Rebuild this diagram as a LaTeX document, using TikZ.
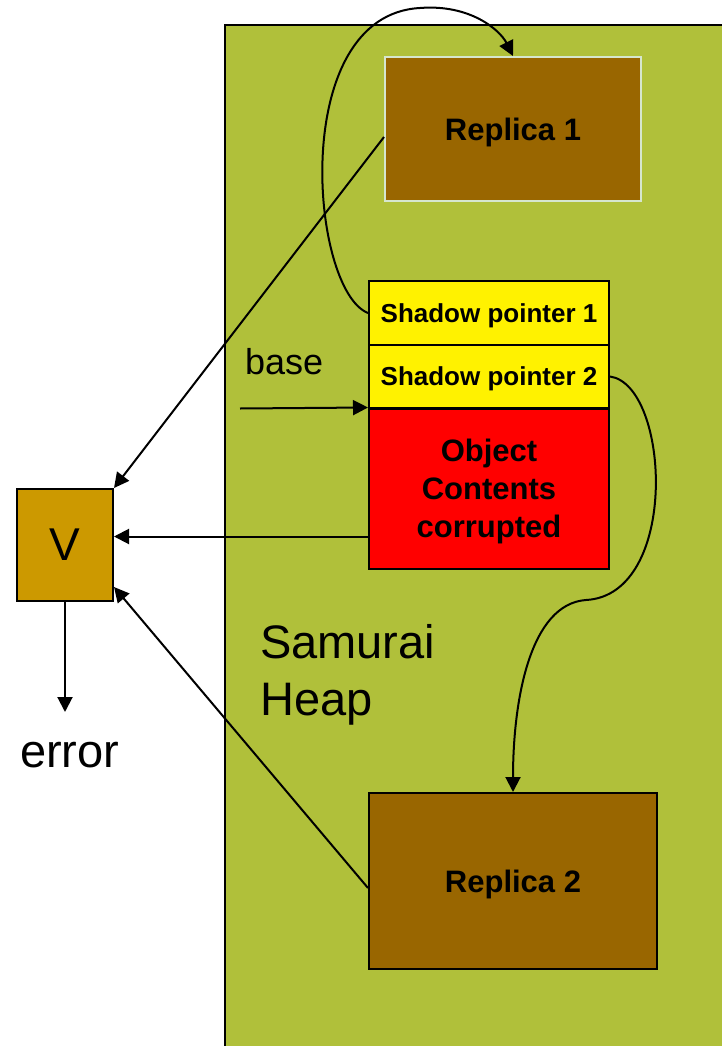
\documentclass[tikz,border=0pt]{standalone}
\usepackage{fontspec}
\setmainfont{Liberation Sans}
\usetikzlibrary{arrows.meta}
\definecolor{heapgreen}{RGB}{176,192,58}
\definecolor{replicabrown}{RGB}{153,102,0}
\definecolor{vgold}{RGB}{204,153,0}
\definecolor{paleedge}{RGB}{214,230,206}
\tikzset{
  conn/.style={line width=2pt, -{Triangle[length=15pt,width=15pt]}},
  cell/.style={draw=black, line width=2pt, inner sep=0pt, text depth=0pt,
    align=center, font=\bfseries\fontsize{31}{38}\selectfont},
  shadowcell/.style={cell, fill=yellow, minimum width=240pt,
    font=\bfseries\fontsize{26}{30}\selectfont},
  replica/.style={cell, fill=replicabrown},
  label/.style={anchor=base west, inner sep=0pt},
}
\begin{document}
\begin{tikzpicture}[x=1pt,y=-1pt]
\useasboundingbox (0,0) rectangle (721,1046);
% heap region
\path[fill=heapgreen, draw=black, line width=2.2pt] (225,25) rectangle (760,1080);

\node[replica, draw=paleedge, minimum width=256pt, minimum height=144pt] (rep1) at (513,129) {Replica 1};
\node[shadowcell, minimum height=64pt] (sp1) at (489,313) {Shadow pointer 1};
\node[shadowcell, minimum height=63pt] (sp2) at (489,376.5) {Shadow pointer 2};
\node[cell, fill=red, minimum width=240pt, minimum height=160pt] (obj) at (489,488.5) {Object\\Contents\\corrupted};
\node[replica, minimum width=288pt, minimum height=176pt] (rep2) at (513,881) {Replica 2};
\node[draw=black, line width=2pt, fill=vgold, minimum width=96pt, minimum height=112pt, inner sep=0pt,
  font=\fontsize{46}{50}\selectfont] (V) at (65,545) {V};

\node[label, font=\fontsize{36}{40}\selectfont] (baselbl) at (245,374) {base};
\node[label, font=\fontsize{47}{56}\selectfont] (heap1) at (260,658) {Samurai};
\node[label, font=\fontsize{47}{56}\selectfont] (heap2) at (260,715) {Heap};
\node[label, font=\fontsize{47}{50}\selectfont] (err) at (20,767) {error};

\coordinate (basestart) at (240,408.5);
\coordinate (errtip) at (65,712);

% connectors
\draw[conn] ([yshift=-8pt]rep1.west) -- (V.north east);
\draw[conn] ([yshift=-48pt]obj.west) -- ([yshift=-48pt]obj.west -| V.east);
\draw[conn] ([yshift=-7pt]rep2.west) -- ([yshift=-42pt]V.east);
\draw[conn] (basestart) -- (obj.north west);
\draw[conn] (V.south) -- (errtip);
\draw[conn] (sp1.west) .. controls (310,290) and (288,15) .. (420,8)
  .. controls (470,4) and (500,30) .. (rep1.north);
\draw[conn] (sp2.east) .. controls (670,385) and (680,595) .. (586,600)
  .. controls (530,604) and (513,700) .. (rep2.north);
\end{tikzpicture}
\end{document}
